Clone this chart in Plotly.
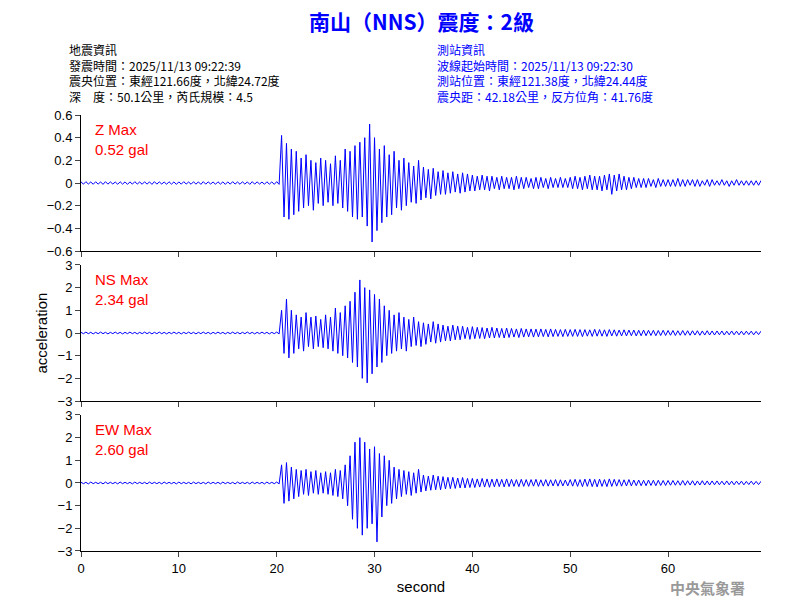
import plotly.graph_objects as go
from plotly.subplots import make_subplots

# peak-to-peak per 0.5 s window, t = 0 .. 69.5 s
win_start = [i * 0.5 for i in range(140)]

z_up = [0.01, 0.012, 0.009, 0.011, 0.01, 0.012, 0.01, 0.009, 0.011, 0.01,
        0.01, 0.012, 0.009, 0.011, 0.01, 0.012, 0.01, 0.009, 0.011, 0.01,
        0.01, 0.012, 0.009, 0.011, 0.01, 0.012, 0.01, 0.009, 0.011, 0.01,
        0.01, 0.012, 0.009, 0.011, 0.01, 0.012, 0.01, 0.009, 0.011, 0.01,
        0.012, 0.42, 0.35, 0.30, 0.28, 0.22, 0.25, 0.20, 0.18, 0.22,
        0.20, 0.17, 0.24, 0.20, 0.30, 0.28, 0.33, 0.36, 0.40, 0.52,
        0.40, 0.30, 0.33, 0.25, 0.28, 0.20, 0.22, 0.18, 0.15, 0.20,
        0.14, 0.12, 0.13, 0.10, 0.11, 0.09, 0.10, 0.08, 0.09, 0.08,
        0.07, 0.06, 0.07, 0.06, 0.06, 0.05, 0.06, 0.05, 0.05, 0.06,
        0.05, 0.05, 0.04, 0.05, 0.05, 0.04, 0.05, 0.04, 0.05, 0.04,
        0.05, 0.06, 0.05, 0.06, 0.07, 0.06, 0.06, 0.07, 0.08, 0.07,
        0.08, 0.06, 0.05, 0.05, 0.04, 0.04, 0.04, 0.03, 0.04, 0.03,
        0.03, 0.03, 0.04, 0.03, 0.03, 0.03, 0.03, 0.02, 0.03, 0.03,
        0.02, 0.03, 0.02, 0.02, 0.03, 0.02, 0.02, 0.02, 0.02, 0.02]
z_down = [-0.01, -0.009, -0.011, -0.01, -0.012, -0.01, -0.009, -0.011, -0.01, -0.012,
          -0.01, -0.009, -0.011, -0.01, -0.012, -0.01, -0.009, -0.011, -0.01, -0.012,
          -0.01, -0.009, -0.011, -0.01, -0.012, -0.01, -0.009, -0.011, -0.01, -0.012,
          -0.01, -0.009, -0.011, -0.01, -0.012, -0.01, -0.009, -0.011, -0.01, -0.012,
          -0.012, -0.30, -0.32, -0.28, -0.25, -0.22, -0.20, -0.24, -0.18, -0.20,
          -0.17, -0.20, -0.18, -0.22, -0.25, -0.30, -0.32, -0.30, -0.38, -0.52,
          -0.42, -0.35, -0.30, -0.28, -0.22, -0.24, -0.20, -0.17, -0.18, -0.15,
          -0.13, -0.14, -0.11, -0.10, -0.10, -0.09, -0.08, -0.09, -0.08, -0.07,
          -0.07, -0.06, -0.06, -0.07, -0.05, -0.06, -0.05, -0.05, -0.06, -0.05,
          -0.05, -0.04, -0.05, -0.05, -0.04, -0.05, -0.04, -0.04, -0.04, -0.04,
          -0.05, -0.05, -0.06, -0.05, -0.06, -0.06, -0.07, -0.06, -0.10, -0.07,
          -0.06, -0.06, -0.05, -0.04, -0.04, -0.04, -0.03, -0.04, -0.03, -0.03,
          -0.03, -0.03, -0.03, -0.03, -0.02, -0.03, -0.03, -0.02, -0.03, -0.02,
          -0.02, -0.02, -0.03, -0.02, -0.02, -0.02, -0.02, -0.02, -0.02, -0.02]

ns_up = [0.03, 0.04, 0.03, 0.03, 0.04, 0.03, 0.03, 0.04, 0.03, 0.03,
         0.04, 0.03, 0.03, 0.04, 0.03, 0.03, 0.04, 0.03, 0.03, 0.04,
         0.03, 0.03, 0.04, 0.03, 0.03, 0.04, 0.03, 0.03, 0.04, 0.03,
         0.03, 0.04, 0.03, 0.03, 0.04, 0.03, 0.03, 0.04, 0.03, 0.03,
         0.04, 1.00, 1.50, 1.00, 0.80, 0.70, 0.90, 0.70, 0.75, 0.60,
         0.80, 0.70, 1.10, 0.90, 1.20, 1.40, 1.80, 2.34, 2.00, 1.90,
         1.70, 1.50, 1.20, 1.00, 0.80, 0.90, 0.70, 0.60, 0.70, 0.50,
         0.45, 0.40, 0.50, 0.40, 0.35, 0.30, 0.35, 0.30, 0.30, 0.25,
         0.28, 0.25, 0.24, 0.22, 0.25, 0.22, 0.20, 0.22, 0.20, 0.18,
         0.20, 0.18, 0.18, 0.17, 0.18, 0.16, 0.18, 0.16, 0.15, 0.16,
         0.15, 0.16, 0.15, 0.15, 0.14, 0.16, 0.15, 0.14, 0.15, 0.14,
         0.13, 0.14, 0.13, 0.13, 0.12, 0.13, 0.12, 0.12, 0.11, 0.12,
         0.11, 0.11, 0.10, 0.11, 0.10, 0.10, 0.10, 0.09, 0.10, 0.09,
         0.09, 0.09, 0.08, 0.09, 0.08, 0.08, 0.08, 0.08, 0.07, 0.08]
ns_down = [-0.03, -0.03, -0.04, -0.03, -0.03, -0.04, -0.03, -0.03, -0.04, -0.03,
           -0.03, -0.04, -0.03, -0.03, -0.04, -0.03, -0.03, -0.04, -0.03, -0.03,
           -0.04, -0.03, -0.03, -0.04, -0.03, -0.03, -0.04, -0.03, -0.03, -0.04,
           -0.03, -0.03, -0.04, -0.03, -0.03, -0.04, -0.03, -0.03, -0.04, -0.03,
           -0.04, -0.90, -1.10, -0.90, -0.70, -0.80, -0.60, -0.70, -0.60, -0.65,
           -0.70, -0.80, -0.90, -1.00, -1.10, -1.30, -1.50, -2.00, -2.20, -1.80,
           -1.50, -1.30, -1.00, -0.90, -0.80, -0.70, -0.80, -0.60, -0.55, -0.60,
           -0.50, -0.40, -0.45, -0.40, -0.35, -0.35, -0.30, -0.30, -0.25, -0.28,
           -0.25, -0.24, -0.25, -0.22, -0.22, -0.20, -0.22, -0.20, -0.18, -0.20,
           -0.18, -0.17, -0.18, -0.17, -0.16, -0.17, -0.16, -0.15, -0.16, -0.15,
           -0.15, -0.15, -0.16, -0.14, -0.15, -0.14, -0.14, -0.15, -0.13, -0.14,
           -0.13, -0.13, -0.12, -0.13, -0.12, -0.12, -0.11, -0.12, -0.11, -0.11,
           -0.10, -0.11, -0.10, -0.10, -0.10, -0.09, -0.10, -0.09, -0.09, -0.09,
           -0.08, -0.09, -0.08, -0.08, -0.08, -0.08, -0.07, -0.08, -0.07, -0.07]

ew_up = [0.03, 0.03, 0.04, 0.03, 0.03, 0.04, 0.03, 0.03, 0.04, 0.03,
         0.03, 0.04, 0.03, 0.03, 0.04, 0.03, 0.03, 0.04, 0.03, 0.03,
         0.04, 0.03, 0.03, 0.04, 0.03, 0.03, 0.04, 0.03, 0.03, 0.04,
         0.03, 0.03, 0.04, 0.03, 0.03, 0.04, 0.03, 0.03, 0.04, 0.03,
         0.04, 0.80, 0.90, 0.70, 0.60, 0.55, 0.60, 0.50, 0.55, 0.45,
         0.50, 0.45, 0.60, 0.55, 0.80, 1.20, 1.80, 2.00, 1.80, 1.50,
         1.60, 1.30, 1.20, 1.00, 0.70, 0.60, 0.55, 0.50, 0.45, 0.60,
         0.35, 0.30, 0.35, 0.30, 0.28, 0.25, 0.25, 0.22, 0.24, 0.20,
         0.20, 0.18, 0.20, 0.18, 0.17, 0.18, 0.16, 0.18, 0.16, 0.15,
         0.16, 0.15, 0.15, 0.16, 0.14, 0.15, 0.14, 0.15, 0.14, 0.13,
         0.15, 0.16, 0.15, 0.17, 0.18, 0.16, 0.17, 0.15, 0.18, 0.16,
         0.15, 0.14, 0.15, 0.13, 0.13, 0.12, 0.13, 0.12, 0.12, 0.11,
         0.11, 0.11, 0.10, 0.11, 0.10, 0.10, 0.09, 0.10, 0.09, 0.09,
         0.09, 0.08, 0.09, 0.08, 0.08, 0.08, 0.07, 0.08, 0.07, 0.07]
ew_down = [-0.03, -0.04, -0.03, -0.03, -0.04, -0.03, -0.03, -0.04, -0.03, -0.03,
           -0.04, -0.03, -0.03, -0.04, -0.03, -0.03, -0.04, -0.03, -0.03, -0.04,
           -0.03, -0.03, -0.04, -0.03, -0.03, -0.04, -0.03, -0.03, -0.04, -0.03,
           -0.03, -0.04, -0.03, -0.03, -0.04, -0.03, -0.03, -0.04, -0.03, -0.03,
           -0.04, -0.90, -0.80, -0.70, -0.60, -0.50, -0.55, -0.45, -0.50, -0.45,
           -0.50, -0.55, -0.60, -0.70, -1.00, -1.60, -2.00, -2.30, -2.00, -1.80,
           -2.60, -1.50, -1.00, -0.90, -0.70, -0.60, -0.50, -0.55, -0.45, -0.40,
           -0.35, -0.32, -0.30, -0.30, -0.26, -0.25, -0.24, -0.22, -0.22, -0.20,
           -0.20, -0.18, -0.18, -0.19, -0.17, -0.16, -0.17, -0.16, -0.15, -0.16,
           -0.15, -0.15, -0.14, -0.15, -0.14, -0.14, -0.13, -0.14, -0.13, -0.13,
           -0.14, -0.15, -0.16, -0.15, -0.16, -0.17, -0.15, -0.16, -0.15, -0.14,
           -0.14, -0.13, -0.13, -0.12, -0.12, -0.12, -0.11, -0.12, -0.11, -0.11,
           -0.10, -0.10, -0.10, -0.10, -0.09, -0.10, -0.09, -0.09, -0.09, -0.08,
           -0.08, -0.08, -0.08, -0.08, -0.07, -0.08, -0.07, -0.07, -0.07, -0.07]

channels = ['Z', 'NS', 'EW']
max_labels = ['0.52 gal', '2.34 gal', '2.60 gal']
up_lists = [z_up, ns_up, ew_up]
down_lists = [z_down, ns_down, ew_down]
y_ranges = [[-0.6, 0.6], [-3, 3], [-3, 3]]

fig = make_subplots(rows=3, cols=1, shared_xaxes=True, vertical_spacing=0.032)

for i in range(3):
    xs, ys = [], []
    for t, u, d in zip(win_start, up_lists[i], down_lists[i]):
        xs += [t, t + 0.25]
        ys += [u, d]
    fig.add_trace(go.Scatter(x=xs, y=ys, mode='lines', showlegend=False,
                             line=dict(color='#0000ff', width=1)), row=i + 1, col=1)
    step = 0.2 if i == 0 else 1
    fig.update_yaxes(range=y_ranges[i], dtick=step, row=i + 1, col=1)
    ax = 'y domain' if i == 0 else f'y{i + 1} domain'
    fig.add_annotation(x=0.018, y=0.97, xref='x domain', yref=ax, xanchor='left', yanchor='top',
                       text=f'{channels[i]} Max<br>{max_labels[i]}', showarrow=False, align='left',
                       font=dict(color='red', size=15, family='Arial'))

fig.update_xaxes(range=[0, 69.5], dtick=10, showline=True, linecolor='black', ticks='outside',
                 showgrid=False, zeroline=False, mirror=False)
fig.update_xaxes(showticklabels=True, row=3, col=1)
fig.update_xaxes(showticklabels=False, row=1, col=1)
fig.update_xaxes(showticklabels=False, row=2, col=1)
fig.update_xaxes(title=dict(text='second', font=dict(size=15), standoff=6), row=3, col=1)
fig.update_yaxes(showline=True, linecolor='black', ticks='outside', showgrid=False, zeroline=False)

hdr = dict(family='Noto Sans CJK TC', size=12)
left_txt = ('地震資訊<br>發震時間：2025/11/13 09:22:39<br>震央位置：東經121.66度，北緯24.72度'
            '<br>深　度：50.1公里，芮氏規模：4.5')
right_txt = ('測站資訊<br>波線起始時間：2025/11/13 09:22:30<br>測站位置：東經121.38度，北緯24.44度'
             '<br>震央距：42.18公里，反方位角：41.76度')
fig.add_annotation(x=-0.02, y=1.175, xref='paper', yref='paper', text=left_txt, showarrow=False,
                   xanchor='left', yanchor='top', align='left', font=dict(color='black', **hdr))
fig.add_annotation(x=0.52, y=1.175, xref='paper', yref='paper', text=right_txt, showarrow=False,
                   xanchor='left', yanchor='top', align='left', font=dict(color='#0000ff', **hdr))
fig.add_annotation(x=0.5, y=1.215, xref='paper', yref='paper', text='<b>南山（NNS）震度：2級</b>',
                   showarrow=False, yanchor='middle',
                   font=dict(color='#0000ff', size=21, family='Noto Sans CJK TC'))
fig.add_annotation(x=-0.075, y=0.5, xref='paper', yref='paper', text='acceleration', textangle=-90,
                   showarrow=False, font=dict(size=15, family='Arial', color='black'))
fig.add_annotation(x=0.98, y=-0.055, xref='paper', yref='paper', text='<b>中央氣象署</b>',
                   showarrow=False, xanchor='right', yanchor='top',
                   font=dict(size=15, family='Noto Sans CJK TC', color='#999999'))

fig.update_layout(width=800, height=600, plot_bgcolor='white', paper_bgcolor='white',
                  margin=dict(l=73, r=47, t=107, b=57),
                  font=dict(family='Arial', size=13, color='black'))
fig.write_html('out.html')
